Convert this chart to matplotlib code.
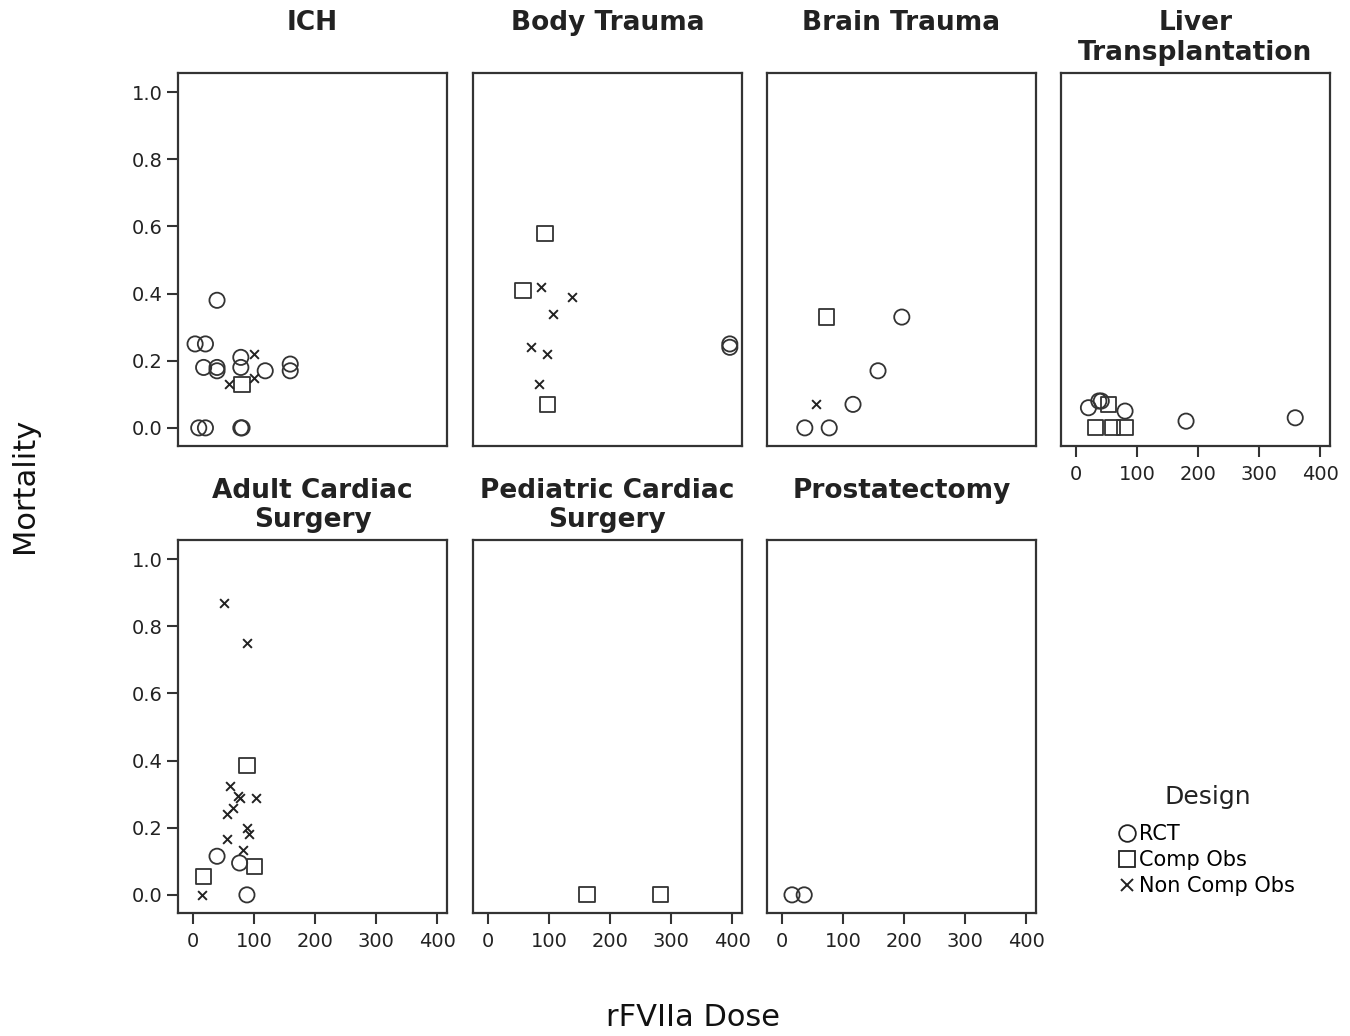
import matplotlib
matplotlib.use("Agg")
import matplotlib.pyplot as plt
from matplotlib.lines import Line2D

# rFVIIa dose vs mortality, one panel per indication
ich_dose = [39, 3, 20, 17, 39, 39, 78, 78, 99, 118, 100, 58, 80, 159, 159, 9, 20, 78, 80]
ich_mort = [0.38, 0.25, 0.25, 0.18, 0.18, 0.17, 0.21, 0.18, 0.22, 0.17, 0.15, 0.13, 0.13, 0.19, 0.17, 0.0, 0.0, 0.0, 0.0]
ich_design = ["RCT", "RCT", "RCT", "RCT", "RCT", "RCT", "RCT", "RCT", "Non", "RCT", "Non", "Non", "Comp", "RCT", "RCT", "RCT", "RCT", "RCT", "RCT"]

body_dose = [93, 57, 86, 137, 106, 70, 96, 84, 97, 396, 396]
body_mort = [0.58, 0.41, 0.42, 0.39, 0.34, 0.24, 0.22, 0.13, 0.07, 0.25, 0.24]
body_design = ["Comp", "Comp", "Non", "Non", "Non", "Non", "Non", "Non", "Comp", "RCT", "RCT"]

brain_dose = [72, 196, 157, 116, 56, 37, 77]
brain_mort = [0.33, 0.33, 0.17, 0.07, 0.07, 0.0, 0.0]
brain_design = ["Comp", "RCT", "RCT", "RCT", "Non", "RCT", "RCT"]

liver_dose = [20, 37, 41, 53, 80, 31, 59, 80, 180, 359]
liver_mort = [0.06, 0.08, 0.08, 0.07, 0.05, 0.0, 0.0, 0.0, 0.02, 0.03]
liver_design = ["RCT", "RCT", "RCT", "Comp", "RCT", "Comp", "Comp", "Comp", "RCT", "RCT"]

adult_dose = [50, 88, 88, 60, 73, 77, 103, 65, 55, 88, 91, 55, 81, 39, 76, 100, 17, 14, 88]
adult_mort = [0.87, 0.75, 0.385, 0.325, 0.295, 0.29, 0.29, 0.26, 0.24, 0.20, 0.18, 0.165, 0.135, 0.115, 0.095, 0.085, 0.055, 0.0, 0.0]
adult_design = ["Non", "Non", "Comp", "Non", "Non", "Non", "Non", "Non", "Non", "Non", "Non", "Non", "Non", "RCT", "RCT", "Comp", "Comp", "Non", "RCT"]

ped_dose = [162, 282]
ped_mort = [0.0, 0.0]
ped_design = ["Comp", "Comp"]

prost_dose = [16, 36]
prost_mort = [0.0, 0.0]
prost_design = ["RCT", "RCT"]

panel_titles = ["ICH", "Body Trauma", "Brain Trauma", "Liver\nTransplantation",
                "Adult Cardiac\nSurgery", "Pediatric Cardiac\nSurgery", "Prostatectomy"]
panel_data = [
    (ich_dose, ich_mort, ich_design),
    (body_dose, body_mort, body_design),
    (brain_dose, brain_mort, brain_design),
    (liver_dose, liver_mort, liver_design),
    (adult_dose, adult_mort, adult_design),
    (ped_dose, ped_mort, ped_design),
    (prost_dose, prost_mort, prost_design),
]

designs = ["RCT", "Comp", "Non"]
design_labels = ["RCT", "Comp Obs", "Non Comp Obs"]
styles = {
    "RCT": dict(marker="o", s=120, facecolors="none", edgecolors="#333333", linewidths=1.3),
    "Comp": dict(marker="s", s=120, facecolors="none", edgecolors="#333333", linewidths=1.3),
    "Non": dict(marker="x", s=40, c="#222222", linewidths=1.4),
}

W, H = 1350, 1036
fig = plt.figure(figsize=(W / 100, H / 100), dpi=100)

col_left = [178, 473, 767, 1061]
row_top = [73, 540]
pw, ph = 269, 373

for i, (title, (xs, ys, ds)) in enumerate(zip(panel_titles, panel_data)):
    r, c = divmod(i, 4)
    ax = fig.add_axes([col_left[c] / W, 1 - (row_top[r] + ph) / H, pw / W, ph / H])
    for d in designs:
        px = [x for x, dd in zip(xs, ds) if dd == d]
        py = [y for y, dd in zip(ys, ds) if dd == d]
        if px:
            ax.scatter(px, py, **styles[d], zorder=3)
    ax.set_xlim(-25, 416)
    ax.set_ylim(-0.054, 1.057)
    ax.set_xticks([0, 100, 200, 300, 400])
    ax.set_yticks([0.0, 0.2, 0.4, 0.6, 0.8, 1.0])
    ax.yaxis.set_major_formatter(matplotlib.ticker.FormatStrFormatter("%.1f"))
    for sp in ax.spines.values():
        sp.set_linewidth(1.6)
        sp.set_color("#333333")
    ax.tick_params(direction="out", length=8, width=1.5, color="#333333",
                   labelsize=14, labelcolor="#222222", pad=3)
    ax.tick_params(axis="x", pad=6)
    show_x = (r == 1) or (c == 3)
    show_y = (c == 0)
    if not show_x:
        ax.tick_params(axis="x", bottom=False, labelbottom=False)
    if not show_y:
        ax.tick_params(axis="y", left=False, labelleft=False)
    ax.annotate(title, xy=(0.5, 1), xycoords="axes fraction", xytext=(0, 45),
                textcoords="offset points", ha="center", va="top",
                fontsize=19, fontweight="bold", color="#222222", linespacing=1.18)

fig.text(25 / W, 1 - 485 / H, "Mortality", rotation=90, ha="center", va="center",
         fontsize=22, color="#111111")
fig.text(693 / W, 1 - 1018 / H, "rFVIIa Dose", ha="center", va="center",
         fontsize=22, color="#111111")

handles = [
    Line2D([], [], marker="o", ls="none", mfc="none", mec="#222222", ms=12, mew=1.3),
    Line2D([], [], marker="s", ls="none", mfc="none", mec="#222222", ms=12, mew=1.3),
    Line2D([], [], marker="x", ls="none", color="#222222", ms=8, mew=1.4),
]
fig.text(1208 / W, 1 - 797 / H, "Design", ha="center", va="center",
         fontsize=18, color="#222222")
fig.legend(handles, design_labels, loc="upper left",
           bbox_to_anchor=(1108 / W, 1 - 814 / H), frameon=False,
           fontsize=15, handlelength=0.8, handletextpad=0.2,
           labelspacing=0.28, borderpad=0)

fig.savefig("out.png", dpi=100, facecolor="white")
